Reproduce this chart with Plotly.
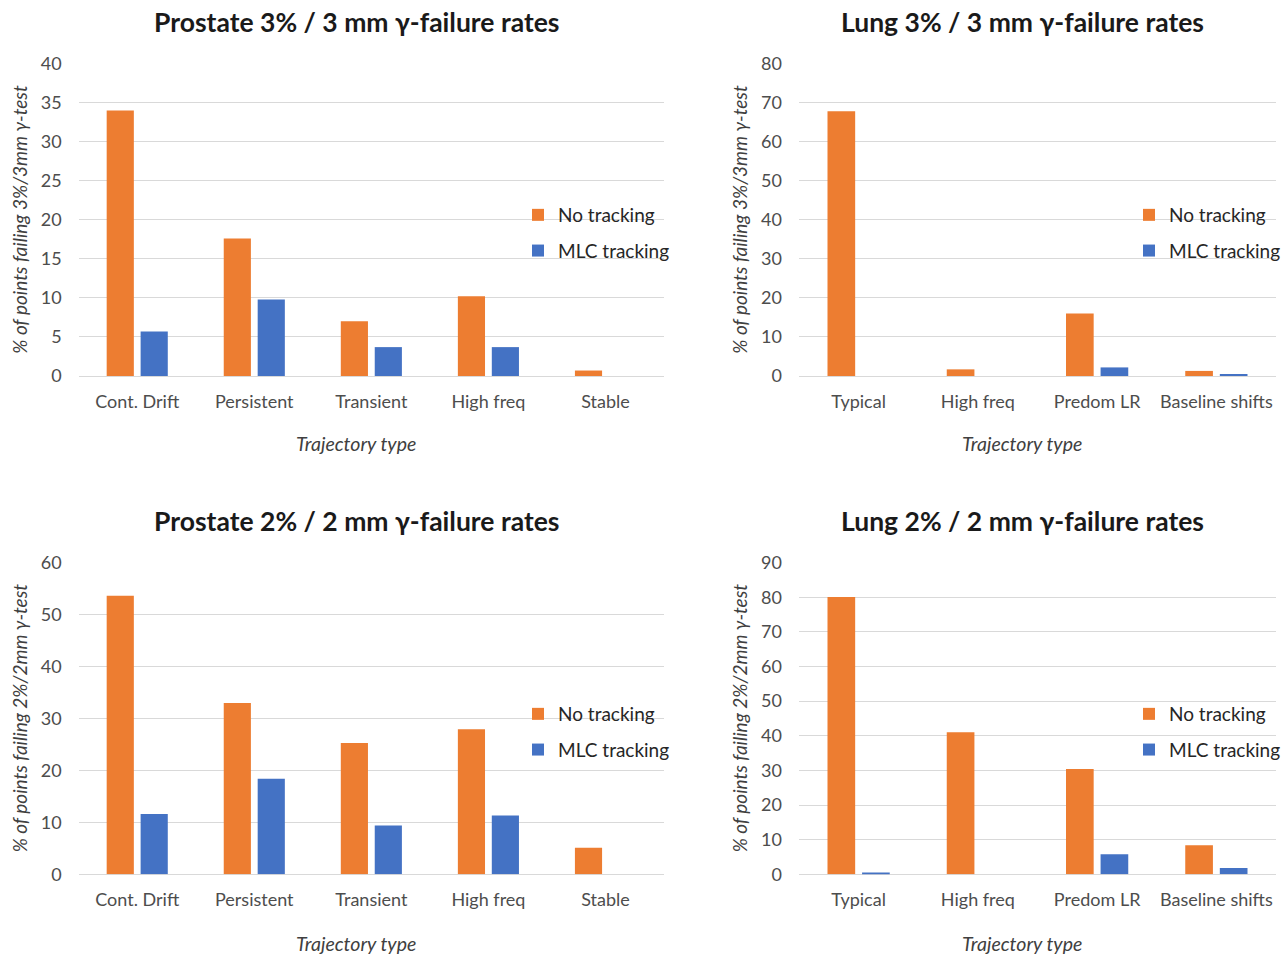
import plotly.graph_objects as go

# ---- data -------------------------------------------------------------
prostate_cats = ["Cont. Drift", "Persistent", "Transient", "High freq", "Stable"]
lung_cats = ["Typical", "High freq", "Predom LR", "Baseline shifts"]

prostate_3_no = [34.0, 17.6, 7.0, 10.2, 0.7]
prostate_3_mlc = [5.7, 9.8, 3.7, 3.7, 0.0]

lung_3_no = [67.8, 1.7, 16.0, 1.3]
lung_3_mlc = [0.0, 0.0, 2.2, 0.5]

prostate_2_no = [53.6, 33.0, 25.3, 27.9, 5.1]
prostate_2_mlc = [11.6, 18.4, 9.4, 11.3, 0.0]

lung_2_no = [80.1, 41.0, 30.4, 8.4]
lung_2_mlc = [0.5, 0.0, 5.8, 1.8]

series_names = ["No tracking", "MLC tracking"]

# ---- style ------------------------------------------------------------
W, H = 1286, 956
FONT = "Lato"
ORANGE = "#ED7D31"
BLUE = "#4472C4"
GRID = "#D9D9D9"
TICK = "#4d4d4d"
AXTITLE = "#404040"
TITLE_C = "#1a1a1a"


def fx(p):
    return p / W


def fy(p):
    return 1 - p / H


panels = [
    dict(title="Prostate 3% / 3 mm γ-failure rates", cats=prostate_cats,
         no=prostate_3_no, mlc=prostate_3_mlc, ymax=40, dtick=5,
         ytitle="% of points failing 3%/3mm γ-test",
         x0=78.7, x1=664, top=63, bottom=376, tx=356, ty=22, xt_y=444,
         lx=518, ly=233),
    dict(title="Lung 3% / 3 mm γ-failure rates", cats=lung_cats,
         no=lung_3_no, mlc=lung_3_mlc, ymax=80, dtick=10,
         ytitle="% of points failing 3%/3mm γ-test",
         x0=799, x1=1276, top=63, bottom=376, tx=1022, ty=22, xt_y=444,
         lx=1129, ly=233),
    dict(title="Prostate 2% / 2 mm γ-failure rates", cats=prostate_cats,
         no=prostate_2_no, mlc=prostate_2_mlc, ymax=60, dtick=10,
         ytitle="% of points failing 2%/2mm γ-test",
         x0=78.7, x1=664, top=562, bottom=874.3, tx=356, ty=521, xt_y=943,
         lx=518, ly=732),
    dict(title="Lung 2% / 2 mm γ-failure rates", cats=lung_cats,
         no=lung_2_no, mlc=lung_2_mlc, ymax=90, dtick=10,
         ytitle="% of points failing 2%/2mm γ-test",
         x0=799, x1=1276, top=562, bottom=874.3, tx=1022, ty=521, xt_y=943,
         lx=1129, ly=732),
]

fig = go.Figure()
layout = dict(
    width=W, height=H,
    margin=dict(l=0, r=0, t=0, b=0, autoexpand=False),
    paper_bgcolor="white", plot_bgcolor="white",
    font=dict(family=FONT, color=TICK),
    barmode="group", bargap=0.42, bargroupgap=0.2,
    annotations=[],
)

for i, p in enumerate(panels, start=1):
    sfx = "" if i == 1 else str(i)
    leg = "legend" + sfx
    for name, vals, color in zip(series_names, [p["no"], p["mlc"]], [ORANGE, BLUE]):
        fig.add_trace(go.Bar(
            x=p["cats"], y=vals, name=name,
            marker=dict(color=color, line=dict(width=0)),
            xaxis="x" + sfx, yaxis="y" + sfx,
            legend=leg, legendgroup=name + sfx,
        ))

    layout["xaxis" + sfx] = dict(
        domain=[fx(p["x0"]), fx(p["x1"])], anchor="y" + sfx,
        automargin=False,
        showgrid=False, showline=False, ticks="",
        tickfont=dict(size=18, color=TICK, family=FONT),
        ticklabelstandoff=13,
        fixedrange=True,
    )
    # small headroom so the top gridline is drawn at the range maximum
    layout["yaxis" + sfx] = dict(
        domain=[fy(p["bottom"]), fy(p["top"])], anchor="x" + sfx,
        automargin=False,
        range=[0, p["ymax"] * 1.002], dtick=p["dtick"], tick0=0,
        showgrid=True, gridcolor=GRID, gridwidth=1.3,
        zeroline=True, zerolinecolor=GRID, zerolinewidth=1.3,
        showline=False, ticks="",
        tickfont=dict(size=18, color=TICK, family=FONT),
        ticklabelstandoff=16,
        title=dict(text="<i>" + p["ytitle"] + "</i>", standoff=8,
                   font=dict(size=19, color=AXTITLE, family=FONT)),
        fixedrange=True,
    )
    layout[leg] = dict(
        x=fx(p["lx"]), xanchor="left",
        y=fy(p["ly"]), yanchor="middle",
        bgcolor="rgba(0,0,0,0)", borderwidth=0,
        font=dict(size=19, color="#262626", family=FONT),
        tracegroupgap=8, itemclick=False, itemdoubleclick=False,
    )
    # chart title
    layout["annotations"].append(dict(
        text="<b>" + p["title"] + "</b>", xref="paper", yref="paper",
        x=fx(p["tx"]), y=fy(p["ty"]), xanchor="center", yanchor="middle",
        showarrow=False, font=dict(size=26.5, color=TITLE_C, family=FONT),
    ))
    # category-axis title, centred on the chart area
    layout["annotations"].append(dict(
        text="<i>Trajectory type</i>", xref="paper", yref="paper",
        x=fx(p["tx"]), y=fy(p["xt_y"]), xanchor="center", yanchor="middle",
        showarrow=False, font=dict(size=19.5, color=AXTITLE, family=FONT),
    ))

fig.update_layout(**layout)
fig.write_html("out.html")
